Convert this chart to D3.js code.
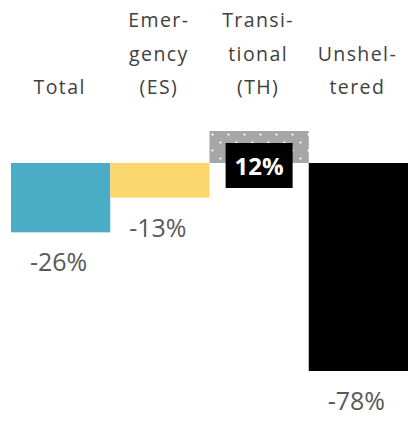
<!DOCTYPE html>
<html>
<head>
<meta charset="utf-8">
<script src="https://cdn.jsdelivr.net/npm/d3@7"></script>
<style>
  html, body { margin: 0; padding: 0; background: #fff; }
  svg { display: block; }
</style>
</head>
<body>
<div id="chart"></div>
<script>
// data
const categories = ["Total", "Emergency (ES)", "Transitional (TH)", "Unsheltered"];
const headerLines = [["Total"], ["Emer-", "gency", "(ES)"], ["Transi-", "tional", "(TH)"], ["Unshel-", "tered"]];
const changes = [-26, -13, 12, -78];
const valueLabels = ["-26%", "-13%", "12%", "-78%"];
const barColors = ["#4bacc6", "#fbd76e", "url(#dots)", "#000000"];

const W = 409, H = 423;
const data = categories.map((c, i) => ({
  cat: c, value: changes[i], label: valueLabels[i], lines: headerLines[i], color: barColors[i]
}));

const svg = d3.select("#chart").append("svg")
  .attr("width", W)
  .attr("height", H);

// dotted gray fill for the TH bar
const pat = svg.append("defs").append("pattern")
  .attr("id", "dots")
  .attr("patternUnits", "userSpaceOnUse")
  .attr("width", 16).attr("height", 16);
pat.append("rect").attr("width", 16).attr("height", 16).attr("fill", "#a6a6a6");
[[4, 6], [12, 14]].forEach(([cx, cy]) => {
  pat.append("rect").attr("x", cx - 1).attr("y", cy).attr("width", 3).attr("height", 1).attr("fill", "#e8e8e8");
  pat.append("rect").attr("x", cx).attr("y", cy - 1).attr("width", 1).attr("height", 3).attr("fill", "#e8e8e8");
});

const x = d3.scaleBand()
  .domain(categories)
  .range([11, 408])
  .padding(0);

const y = d3.scaleLinear()
  .domain([-78, 12])
  .range([371, 131]);

// header (category names above the bars)
const lineH = 33.5;
const bottomBase = 94;
svg.selectAll(".hdr")
  .data(data)
  .join("text")
  .attr("class", "hdr")
  .attr("text-anchor", "middle")
  .style("font-family", "'Open Sans', sans-serif")
  .style("font-size", "19.5px")
  .style("letter-spacing", "1.4px")
  .style("fill", "#404040")
  .each(function(d) {
    const t = d3.select(this);
    const n = d.lines.length;
    d.lines.forEach((ln, k) => {
      t.append("tspan")
        .attr("x", x(d.cat) + x.bandwidth() / 2 - 1)
        .attr("y", bottomBase - (n - 1 - k) * lineH)
        .text(ln);
    });
  });

// bars
svg.selectAll(".bar")
  .data(data)
  .join("rect")
  .attr("class", "bar")
  .attr("x", d => x(d.cat))
  .attr("width", x.bandwidth())
  .attr("y", d => Math.min(y(d.value), y(0)))
  .attr("height", d => Math.abs(y(d.value) - y(0)))
  .attr("fill", d => d.color);

// labels for negative values, below the bars
svg.selectAll(".val")
  .data(data.filter(d => d.value < 0))
  .join("text")
  .attr("class", "val")
  .attr("x", d => x(d.cat) + x.bandwidth() / 2 - 2)
  .attr("y", d => y(d.value) + 39)
  .attr("text-anchor", "middle")
  .style("font-family", "'Open Sans', sans-serif")
  .style("font-size", "25px")
  .style("fill", "#595959")
  .text(d => d.label);

// boxed label for the positive value
const pos = data.filter(d => d.value >= 0);
const boxW = 67, boxH = 45;
svg.selectAll(".valbox")
  .data(pos)
  .join("rect")
  .attr("class", "valbox")
  .attr("x", d => x(d.cat) + x.bandwidth() / 2 - boxW / 2)
  .attr("y", d => y(d.value) + 12)
  .attr("width", boxW)
  .attr("height", boxH)
  .attr("fill", "#000");

svg.selectAll(".valpos")
  .data(pos)
  .join("text")
  .attr("class", "valpos")
  .attr("x", d => x(d.cat) + x.bandwidth() / 2)
  .attr("y", d => y(d.value) + 44)
  .attr("text-anchor", "middle")
  .style("font-family", "'Open Sans', sans-serif")
  .style("font-size", "24px")
  .style("font-weight", "700")
  .style("fill", "#fff")
  .text(d => d.label);
</script>
</body>
</html>
